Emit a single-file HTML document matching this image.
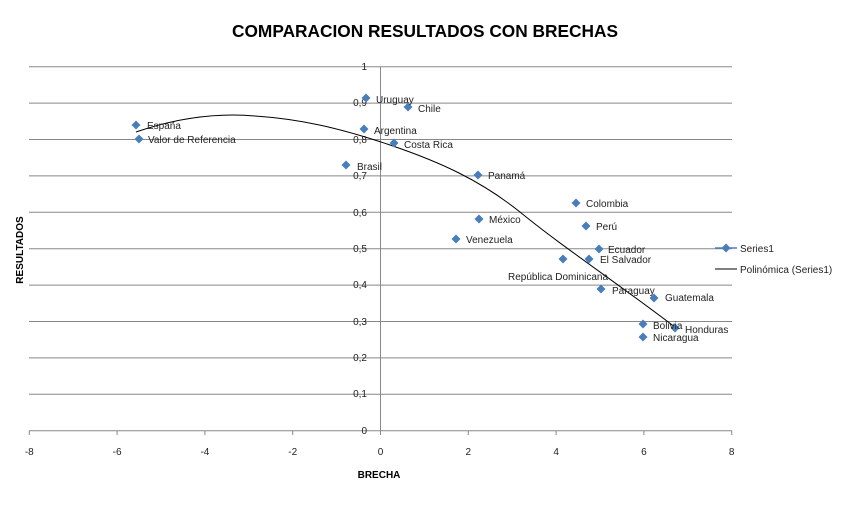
<!DOCTYPE html>
<html><head><meta charset="utf-8"><style>
body{margin:0;background:#fff;}
svg{display:block;font-family:"Liberation Sans",sans-serif;}
</style></head><body>
<svg width="850" height="512" viewBox="0 0 850 512">
<rect width="850" height="512" fill="#fff"/>
<text x="425" y="37" text-anchor="middle" font-size="17.3" font-weight="bold" fill="#000" textLength="386" lengthAdjust="spacingAndGlyphs">COMPARACION RESULTADOS CON BRECHAS</text>
<g stroke="#888" stroke-width="1">
<line x1="29" y1="66.7" x2="732" y2="66.7"/>
<line x1="29" y1="103.1" x2="732" y2="103.1"/>
<line x1="29" y1="139.5" x2="732" y2="139.5"/>
<line x1="29" y1="175.9" x2="732" y2="175.9"/>
<line x1="29" y1="212.3" x2="732" y2="212.3"/>
<line x1="29" y1="248.7" x2="732" y2="248.7"/>
<line x1="29" y1="285.1" x2="732" y2="285.1"/>
<line x1="29" y1="321.5" x2="732" y2="321.5"/>
<line x1="29" y1="357.9" x2="732" y2="357.9"/>
<line x1="29" y1="394.3" x2="732" y2="394.3"/>
<line x1="29" y1="430.7" x2="732" y2="430.7"/>
<line x1="380.5" y1="66.7" x2="380.5" y2="430.7"/>
<line x1="29.3" y1="430.7" x2="29.3" y2="435"/>
<line x1="117.1" y1="430.7" x2="117.1" y2="435"/>
<line x1="204.9" y1="430.7" x2="204.9" y2="435"/>
<line x1="292.7" y1="430.7" x2="292.7" y2="435"/>
<line x1="380.5" y1="430.7" x2="380.5" y2="435"/>
<line x1="468.3" y1="430.7" x2="468.3" y2="435"/>
<line x1="556.1" y1="430.7" x2="556.1" y2="435"/>
<line x1="643.9" y1="430.7" x2="643.9" y2="435"/>
<line x1="731.7" y1="430.7" x2="731.7" y2="435"/>
</g>
<g font-size="10" fill="#222" text-anchor="end">
<text x="367" y="70">1</text><text x="367" y="106">0,9</text><text x="367" y="143">0,8</text>
<text x="367" y="179">0,7</text><text x="367" y="216">0,6</text><text x="367" y="252">0,5</text>
<text x="367" y="288">0,4</text><text x="367" y="325">0,3</text><text x="367" y="361">0,2</text>
<text x="367" y="397">0,1</text><text x="367" y="434">0</text>
</g>
<g font-size="10" fill="#222" text-anchor="middle">
<text x="29.3" y="455">-8</text><text x="117.1" y="455">-6</text><text x="204.9" y="455">-4</text>
<text x="292.7" y="455">-2</text><text x="380.5" y="455">0</text><text x="468.3" y="455">2</text>
<text x="556.1" y="455">4</text><text x="643.9" y="455">6</text><text x="731.7" y="455">8</text>
</g>
<text x="379" y="478" text-anchor="middle" font-size="10" font-weight="bold">BRECHA</text>
<text transform="translate(23,250) rotate(-90)" text-anchor="middle" font-size="10" font-weight="bold">RESULTADOS</text>
<path fill="none" stroke="#000" stroke-width="1" d="M136,132 C180,117 220,113 255,116 C300,119 340,128 390,145 C440,162 480,180 520,212 C560,245 620,285 676,328"/>
<g fill="#4a7ebb">
<path d="M0,-4.5L4.5,0L0,4.5L-4.5,0Z" transform="translate(136,125)"/>
<path d="M0,-4.5L4.5,0L0,4.5L-4.5,0Z" transform="translate(139,139)"/>
<path d="M0,-4.5L4.5,0L0,4.5L-4.5,0Z" transform="translate(366,98)"/>
<path d="M0,-4.5L4.5,0L0,4.5L-4.5,0Z" transform="translate(408,107)"/>
<path d="M0,-4.5L4.5,0L0,4.5L-4.5,0Z" transform="translate(364,129)"/>
<path d="M0,-4.5L4.5,0L0,4.5L-4.5,0Z" transform="translate(394,143)"/>
<path d="M0,-4.5L4.5,0L0,4.5L-4.5,0Z" transform="translate(346,165)"/>
<path d="M0,-4.5L4.5,0L0,4.5L-4.5,0Z" transform="translate(478,175)"/>
<path d="M0,-4.5L4.5,0L0,4.5L-4.5,0Z" transform="translate(576,203)"/>
<path d="M0,-4.5L4.5,0L0,4.5L-4.5,0Z" transform="translate(479,219)"/>
<path d="M0,-4.5L4.5,0L0,4.5L-4.5,0Z" transform="translate(586,226)"/>
<path d="M0,-4.5L4.5,0L0,4.5L-4.5,0Z" transform="translate(456,239)"/>
<path d="M0,-4.5L4.5,0L0,4.5L-4.5,0Z" transform="translate(599,249)"/>
<path d="M0,-4.5L4.5,0L0,4.5L-4.5,0Z" transform="translate(589,259)"/>
<path d="M0,-4.5L4.5,0L0,4.5L-4.5,0Z" transform="translate(563,259)"/>
<path d="M0,-4.5L4.5,0L0,4.5L-4.5,0Z" transform="translate(601,289)"/>
<path d="M0,-4.5L4.5,0L0,4.5L-4.5,0Z" transform="translate(654,298)"/>
<path d="M0,-4.5L4.5,0L0,4.5L-4.5,0Z" transform="translate(643,324)"/>
<path d="M0,-4.5L4.5,0L0,4.5L-4.5,0Z" transform="translate(675,328)"/>
<path d="M0,-4.5L4.5,0L0,4.5L-4.5,0Z" transform="translate(643,337)"/>
<path d="M0,-4.5L4.5,0L0,4.5L-4.5,0Z" transform="translate(726,248)"/>
</g>
<line x1="715" y1="248" x2="737" y2="248" stroke="#4a7ebb" stroke-width="1.5"/>
<line x1="715" y1="269" x2="737" y2="269" stroke="#000" stroke-width="1"/>
<g font-size="10" fill="#222">
<text x="147" y="129">España</text>
<text x="148" y="143">Valor de Referencia</text>
<text x="376" y="103">Uruguay</text>
<text x="418" y="112">Chile</text>
<text x="374" y="134">Argentina</text>
<text x="404" y="148">Costa Rica</text>
<text x="357" y="170">Brasil</text>
<text x="488" y="179">Panamá</text>
<text x="586" y="207">Colombia</text>
<text x="489" y="223">México</text>
<text x="596" y="230">Perú</text>
<text x="466" y="243">Venezuela</text>
<text x="608" y="253">Ecuador</text>
<text x="600" y="263">El Salvador</text>
<text x="508" y="280">República Dominicana</text>
<text x="612" y="294">Paraguay</text>
<text x="665" y="301">Guatemala</text>
<text x="653" y="329">Bolivia</text>
<text x="685" y="333">Honduras</text>
<text x="653" y="341">Nicaragua</text>
<text x="740" y="252">Series1</text>
<text x="740" y="273">Polinómica (Series1)</text>
</g>
</svg>
</body></html>
